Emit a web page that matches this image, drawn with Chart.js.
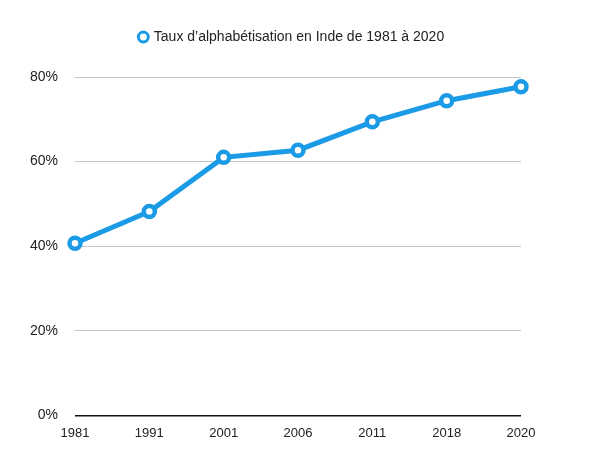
<!DOCTYPE html>
<html>
<head>
<meta charset="utf-8">
<script src="https://cdn.jsdelivr.net/npm/chart.js@4/dist/chart.umd.min.js"></script>
<style>
  html, body { margin: 0; padding: 0; background: #fff; }
  #wrap { width: 600px; height: 470px; position: relative; }
</style>
</head>
<body>
<div id="wrap"><canvas id="c" width="600" height="470"></canvas></div>
<script>
const years = ["1981", "1991", "2001", "2006", "2011", "2018", "2020"];
const literacyRate = [40.7, 48.2, 61.0, 62.7, 69.4, 74.4, 77.7];
const yTicks = [0, 20, 40, 60, 80];
const seriesLabel = "Taux d’alphabétisation en Inde de 1981 à 2020";

const blue = "#1b9be6";
const FONT = "'Liberation Sans', Arial, sans-serif";

const legendTweak = {
  id: "legendTweak",
  beforeInit(chart) {
    const fit = chart.legend.fit;
    chart.legend.fit = function () {
      fit.bind(chart.legend)();
      this.height += 23;
    };
  },
  afterLayout(chart) {
    chart.legend.left = 0;
    chart.legend.right = 584;
  }
};

new Chart(document.getElementById("c"), {
  type: "line",
  data: {
    labels: years,
    datasets: [{
      label: seriesLabel,
      data: literacyRate,
      borderColor: blue,
      backgroundColor: "#ffffff",
      borderWidth: 5,
      pointRadius: 5.5,
      pointBorderWidth: 4.5,
      pointBackgroundColor: "#ffffff",
      pointBorderColor: blue,
      tension: 0,
      clip: false
    }]
  },
  options: {
    responsive: false,
    animation: false,
    layout: { padding: { top: 0, right: 79, bottom: 19, left: 0 } },
    plugins: {
      legend: {
        display: true,
        position: "top",
        labels: {
          usePointStyle: true,
          pointStyle: "circle",
          boxWidth: 7,
          boxHeight: 7,
          color: "#222",
          font: { family: FONT, size: 14 },
          padding: 30,
          generateLabels: (chart) => chart.data.datasets.map((ds, i) => ({
            text: ds.label,
            datasetIndex: i,
            fillStyle: "#ffffff",
            strokeStyle: blue,
            lineWidth: 3,
            pointStyle: "circle",
            fontColor: "#222",
            hidden: false
          }))
        }
      },
      tooltip: { enabled: false }
    },
    scales: {
      x: {
        offset: false,
        grid: { display: false, drawTicks: false },
        border: { display: false },
        ticks: {
          color: "#222",
          font: { family: FONT, size: 13 },
          padding: 10,
          maxRotation: 0,
          autoSkip: false
        }
      },
      y: {
        min: 0,
        max: 80,
        afterFit: (s) => { s.width = 75; },
        afterBuildTicks: (s) => { s.ticks = yTicks.map(v => ({ value: v })); },
        border: { display: false },
        grid: {
          drawTicks: false,
          color: (ctx) => ctx.tick && ctx.tick.value === 0 ? "#111" : "#c6c6c6",
          lineWidth: (ctx) => ctx.tick && ctx.tick.value === 0 ? 1.5 : 1
        },
        ticks: {
          color: "#222",
          font: { family: FONT, size: 14 },
          padding: 17,
          callback: (v) => v + "%"
        }
      }
    }
  },
  plugins: [legendTweak]
});
</script>
</body>
</html>
